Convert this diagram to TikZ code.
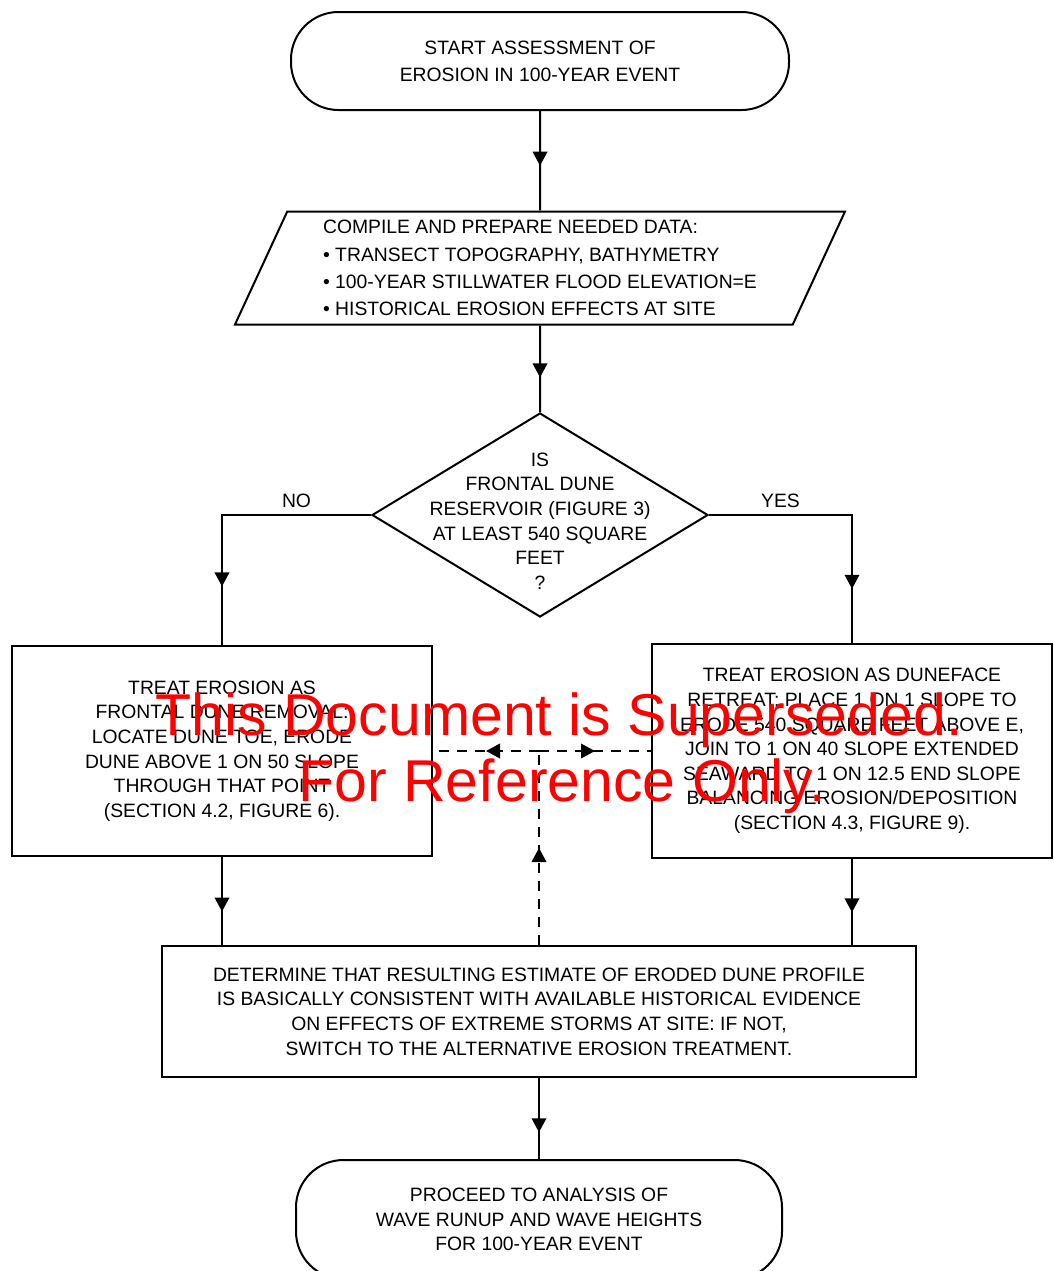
\documentclass[tikz,border=0pt]{standalone}
\usepackage{fontspec}
\setmainfont{Liberation Sans}
\usetikzlibrary{arrows.meta,shapes.geometric,decorations.markings}
\tikzset{
	terminal/.style={draw, line width=0.4mm, rounded corners=0.95cm, align=center, boxtext},
	process/.style={draw, line width=0.4mm, rectangle, align=center, boxtext},
	datain/.style={draw, line width=0.4mm, trapezium, trapezium left angle=64, trapezium right angle=116,
			trapezium stretches body, align=left, font=\fontsize{11}{15.5}\selectfont},
	decision/.style={draw, line width=0.4mm, diamond, inner sep=0pt},
	flow/.style={line width=0.4mm, decoration={markings, mark=at position #1 with {\arrow{Triangle[length=2.8mm,width=2.9mm]}}},
			postaction={decorate}},
	flow/.default=0.55,
	feedback/.style={flow=#1, dash pattern=on 2mm off 1.6mm},
	feedback/.default=0.5,
	boxtext/.style={font=\fontsize{11}{14}\selectfont},
	stamp/.style={text=red, font=\fontsize{33.6}{38}\selectfont, anchor=base}
}

\begin{document}
\begin{tikzpicture}
	\useasboundingbox (0,0) rectangle (21.08,-25.42);
	\node (start) [terminal, minimum width=9.96cm, minimum height=1.96cm, font=\fontsize{11}{15.3}\selectfont] at (10.8,-1.22) {START ASSESSMENT OF\\EROSION IN 100-YEAR EVENT};
	\node (data) [datain, minimum width=12.2cm, minimum height=2.26cm] at (10.8,-5.36) {COMPILE AND PREPARE NEEDED DATA:\\\textbullet\ TRANSECT TOPOGRAPHY, BATHYMETRY\\\textbullet\ 100-YEAR STILLWATER FLOOD ELEVATION=E\\\textbullet\ HISTORICAL EROSION EFFECTS AT SITE};
	\node (query) [decision, minimum width=6.72cm, minimum height=4.08cm,
		label={[boxtext, align=center, yshift=-0.12cm]center:IS\\FRONTAL DUNE\\RESERVOIR (FIGURE 3)\\AT LEAST 540 SQUARE\\FEET\\?}] at (10.8,-10.3) {};
	\node (frontal) [process, minimum width=8.4cm, minimum height=4.2cm] at (4.44,-15.02) {TREAT EROSION AS\\FRONTAL DUNE REMOVAL:\\LOCATE DUNE TOE, ERODE\\DUNE ABOVE 1 ON 50 SLOPE\\THROUGH THAT POINT\\(SECTION 4.2, FIGURE 6).};
	\node (duneface) [process, minimum width=8.0cm, minimum height=4.28cm] at (17.04,-15.02) {TREAT EROSION AS DUNEFACE\\RETREAT: PLACE 1 ON 1 SLOPE TO\\ERODE 540 SQUARE FEET ABOVE E,\\JOIN TO 1 ON 40 SLOPE EXTENDED\\SEAWARD TO 1 ON 12.5 END SLOPE\\BALANCING EROSION/DEPOSITION\\(SECTION 4.3, FIGURE 9).};
	\node (check) [process, minimum width=15.08cm, minimum height=2.62cm] at (10.78,-20.23) {DETERMINE THAT RESULTING ESTIMATE OF ERODED DUNE PROFILE\\IS BASICALLY CONSISTENT WITH AVAILABLE HISTORICAL EVIDENCE\\ON EFFECTS OF EXTREME STORMS AT SITE: IF NOT,\\SWITCH TO THE ALTERNATIVE EROSION TREATMENT.};
	\node (finish) [terminal, minimum width=9.72cm, minimum height=2.38cm] at (10.78,-24.39) {PROCEED TO ANALYSIS OF\\WAVE RUNUP AND WAVE HEIGHTS\\FOR 100-YEAR EVENT};

	\draw [flow] (start.south) -- (data.north);
	\draw [flow=0.6] (data.south) -- (query.north);
	\draw [flow=0.79] (query.west) -| (frontal.north) node[pos=0.25, above, boxtext] {NO};
	\draw [flow=0.8] (query.east) -| (duneface.north) node[pos=0.25, above, boxtext] {YES};
	\draw [flow=0.62] (frontal.south) -- (frontal.south |- check.north);
	\draw [flow=0.62] (duneface.south) -- (duneface.south |- check.north);
	\draw [flow=0.67] (check.south) -- (finish.north);
	\coordinate (switch) at (check.north |- frontal.east);
	\draw [feedback] (check.north) -- (switch);
	\draw [feedback] (switch) -- (frontal.east);
	\draw [feedback] (switch) -- (duneface.west);

	\node (wm1) [stamp] at (11.18,-14.7) {This Document is Superseded.};
	\node (wm2) [stamp] at (11.24,-16.02) {For Reference Only.};
\end{tikzpicture}
\end{document}
